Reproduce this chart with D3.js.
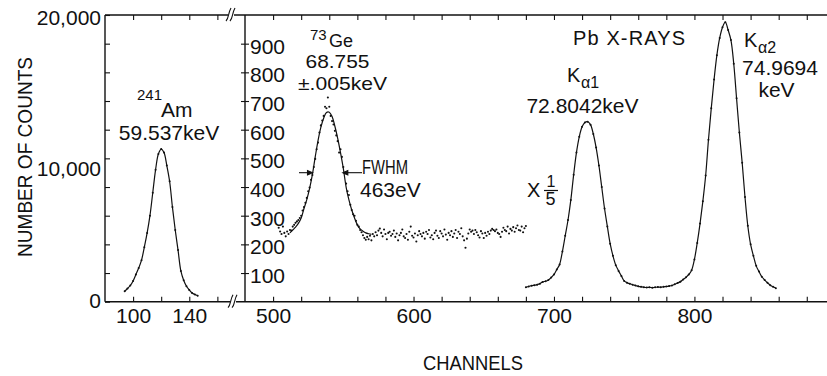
<!DOCTYPE html>
<html><head><meta charset="utf-8">
<script src="https://cdn.jsdelivr.net/npm/d3@7/dist/d3.min.js"></script>
<style>
html,body{margin:0;padding:0;background:#fff;}
svg text{font-family:"Liberation Sans",Arial,sans-serif;fill:#111;}
</style></head><body>
<svg id="chart" width="827" height="376"></svg>
<script>
// ---------- DATA ----------
// 241Am peak (left panel), counts
const amChannels = [94,96,98,100,102,104,106,108,110,112,114,116,118,120,122,124,126,128,130,132,134,136,138,140,142,144,146];
const amCounts   = [730,920,1130,1450,1900,2350,2900,3800,4800,6000,7600,9200,10300,10650,10400,9500,8400,6600,5000,3600,2150,1500,1080,820,610,500,420];

// 73Ge region (right panel, inner scale 0-1000), measured points
const geChannels = [504,505,506,507,508,509,510,511,512,513,514,515,516,517,518,519,520,521,522,523,524,525,526,527,528,529,530,531,532,533,534,535,536,537,538,539,540,541,542,543,544,545,546,547,548,549,550,551,552,553,554,555,556,557,558,559,560,561,562,563,564,565,566,567,568,
569,570,571,572,573,574,575,576,577,578,579,580,581,582,583,584,585,586,587,588,589,590,591,592,593,594,595,596,597,598,599,600,601,602,603,604,605,606,607,608,609,610,611,612,613,614,615,616,617,618,619,620,621,622,623,624,625,626,627,628,629,630,631,632,633,634,635,636,637,638,639,640,641,642,643,644,645,646,647,648,649,650,651,652,653,654,655,656,657,658,659,660,661,662,663,664,665,666,667,668,669,670,671,672,673,674,675,676,677,678,679,680];
const geCounts = [258,245,236,262,240,228,245,236,250,248,262,268,275,280,285,292,300,318,330,345,362,385,398,425,442,470,498,532,555,590,615,632,648,680,675,712,680,648,630,618,596,580,560,520,532,505,470,448,412,385,372,338,320,305,300,282,268,262,250,242,232,222,216,226,218,
230,214,236,228,242,232,248,255,240,228,252,236,218,240,244,230,236,248,226,238,214,232,240,252,228,222,236,216,244,262,230,224,238,210,232,246,236,228,240,220,244,236,250,224,232,218,240,248,230,222,246,238,228,252,234,216,240,232,246,226,238,250,222,244,236,256,228,214,188,220,238,252,244,248,236,250,242,232,224,246,238,222,240,230,244,236,248,254,250,246,252,240,236,226,244,258,250,246,262,238,254,248,260,244,256,266,250,248,262,242,256,264];

// 73Ge fitted curve
const geFitChannels = [512,514,516,518,520,522,524,526,528,530,532,534,536,538,540,542,544,546,548,550,552,554,556,558,560,562,564,566,568,570];
const geFitCounts   = [240,250,260,273,292,325,356,395,444,505,562,608,640,660,661,646,612,570,520,465,400,355,320,292,268,254,246,240,237,235];

// Pb X-ray region (right panel, main scale, x 1/5)
const pbChannels = [680,682,684,686,688,690,692,694,696,698,700,702,704,706,708,710,712,714,716,718,720,722,724,726,728,730,732,734,736,738,740,742,744,746,748,750,752,754,756,758,760,762,764,766,768,770,772,774,776,778,780,782,784,786,788,790,792,794,796,798,800,802,804,806,808,810,812,814,816,818,820,822,824,826,828,830,832,834,836,838,840,842,844,846,848,850,852,854,856,858];
const pbCounts = [1000,1060,1110,1150,1190,1260,1380,1430,1520,1680,1900,2250,2600,3500,4600,5700,7100,8850,10400,11500,12200,12500,12550,12350,11700,10750,9500,8000,6500,5250,4050,3200,2550,2150,1800,1450,1330,1250,1180,1130,1070,1040,1010,990,1000,980,1000,1020,1010,1040,1060,1090,1130,1220,1300,1400,1550,1700,1900,2200,2950,4100,5450,7000,8800,11300,13500,15500,17200,18400,19150,19500,18950,18250,16600,14200,11800,9700,7300,5300,4000,3200,2500,2100,1740,1520,1320,1150,1040,940];

// Ticks and labels
const yTicks = [0,2000,4000,6000,8000,10000,12000,14000,16000,18000,20000];
const yTickLabels = [0,10000,20000];
const geTicks = [100,200,300,400,500,600,700,800,900];
const leftXTicks = [100,120,140,160];
const leftXLabels = [100,140];
const rightXTicks = [500,520,540,560,580,600,620,640,660,680,700,720,740,760,780,800,820,840,860,880];
const rightXLabels = [500,600,700,800];

// ---------- SCALES ----------
const svg = d3.select("#chart");
const Y0 = 301.7, Y1 = 15;
const yMain = d3.scaleLinear().domain([0,20000]).range([Y0,Y1]);
const yGe = d3.scaleLinear().domain([0,1000]).range([Y0,Y1]);
const xL = d3.scaleLinear().domain([80,169.7]).range([105,231]);
const xR = d3.scaleLinear().domain([480,894.4]).range([245,827]);

const zip = (a,b)=>a.map((v,i)=>[v,b[i]]);
const amData = zip(amChannels, amCounts);
const geData = zip(geChannels, geCounts);
const geFit = zip(geFitChannels, geFitCounts);
const pbData = zip(pbChannels, pbCounts);

const ink = "#111";

// ---------- FRAME ----------
const frame = svg.append("g").attr("stroke", ink).attr("stroke-width", 1.4).attr("fill","none");
frame.append("line").attr("x1",105).attr("x2",827).attr("y1",Y1).attr("y2",Y1);
frame.append("line").attr("x1",105).attr("x2",827).attr("y1",Y0).attr("y2",Y0);
frame.append("line").attr("x1",105).attr("x2",105).attr("y1",Y1).attr("y2",Y0);
frame.append("line").attr("x1",245).attr("x2",245).attr("y1",Y1).attr("y2",Y0);

// axis break marks
function brk(cx, cy){
  svg.append("rect").attr("x",cx-3).attr("y",cy-2).attr("width",6).attr("height",4).attr("fill","#fff");
  const g = svg.append("g").attr("stroke",ink).attr("stroke-width",1.1).attr("fill","none");
  g.append("path").attr("d",`M${cx-5},${cy+6} C${cx-2},${cy+3} ${cx-3},${cy-2} ${cx},${cy-7}`);
  g.append("path").attr("d",`M${cx-1},${cy+6} C${cx+2},${cy+3} ${cx+1},${cy-2} ${cx+4},${cy-7}`);
}
brk(231, Y1);
brk(233, Y0);

// ---------- AXES ----------
function styleAxis(g){
  g.select(".domain").remove();
  g.selectAll(".tick line").attr("stroke",ink).attr("stroke-width",1.1);
  g.selectAll(".tick text").attr("fill",ink).style("font-size","21px").attr("font-family",null);
}
// bottom
svg.append("g").attr("transform",`translate(0,${Y0})`)
  .call(d3.axisBottom(xL).tickValues(leftXTicks).tickSize(-5).tickPadding(6).tickFormat(d=>leftXLabels.includes(d)?d:""))
  .call(styleAxis);
svg.append("g").attr("transform",`translate(0,${Y0})`)
  .call(d3.axisBottom(xR).tickValues(rightXTicks).tickSize(-5).tickPadding(6).tickFormat(d=>rightXLabels.includes(d)?d:""))
  .call(styleAxis);
// top
svg.append("g").attr("transform",`translate(0,${Y1})`)
  .call(d3.axisTop(xL).tickValues(leftXTicks).tickSize(-5).tickFormat(""))
  .call(styleAxis);
svg.append("g").attr("transform",`translate(0,${Y1})`)
  .call(d3.axisTop(xR).tickValues(rightXTicks).tickSize(-5).tickFormat(""))
  .call(styleAxis);
// left main
const fmt = d3.format(",");
const dyMap = {0:"0.28em",10000:"0.82em",20000:"0.46em"};
svg.append("g").attr("transform","translate(105,0)")
  .call(d3.axisLeft(yMain).tickValues(yTicks).tickSize(-5).tickPadding(4).tickFormat(d=>yTickLabels.includes(d)?fmt(d):""))
  .call(styleAxis)
  .call(g=>g.selectAll(".tick text").attr("dy",d=>dyMap[d]||"0.32em"));
// inner Ge scale
svg.append("g").attr("transform","translate(245,0)")
  .call(d3.axisRight(yGe).tickValues(geTicks).tickSize(4).tickPadding(1))
  .call(styleAxis)
  .call(g=>g.selectAll(".tick").append("line").attr("x2",-4).attr("stroke",ink).attr("stroke-width",1.1))
  .call(g=>g.selectAll(".tick text").attr("dy","0.45em"));

// ---------- DATA MARKS ----------
const curve = d3.curveCatmullRom.alpha(0.5);
const lineAm = d3.line().x(d=>xL(d[0])).y(d=>yMain(d[1])).curve(curve);
const lineGe = d3.line().x(d=>xR(d[0])).y(d=>yGe(d[1])).curve(curve);
const linePb = d3.line().x(d=>xR(d[0])).y(d=>yMain(d[1])).curve(curve);

svg.append("path").datum(amData).attr("d",lineAm).attr("fill","none").attr("stroke",ink).attr("stroke-width",1.2);
svg.append("path").datum(geFit).attr("d",lineGe).attr("fill","none").attr("stroke",ink).attr("stroke-width",1.2);
svg.append("path").datum(pbData).attr("d",linePb).attr("fill","none").attr("stroke",ink).attr("stroke-width",1.2);

svg.append("g").selectAll("circle").data(amData).join("circle")
  .attr("cx",d=>xL(d[0])).attr("cy",d=>yMain(d[1])).attr("r",1).attr("fill",ink);
svg.append("g").selectAll("circle").data(geData).join("circle")
  .attr("cx",d=>xR(d[0])).attr("cy",d=>yGe(d[1])).attr("r",1.05).attr("fill",ink);
svg.append("g").selectAll("circle").data(pbData).join("circle")
  .attr("cx",d=>xR(d[0])).attr("cy",d=>yMain(d[1])).attr("r",1).attr("fill",ink);

// ---------- ANNOTATIONS ----------
function txt(s, x, y, size, anchor, extra){
  const t = svg.append("text").attr("x",x).attr("y",y).style("font-size",size+"px")
    .attr("text-anchor",anchor||"start").text(s);
  if(extra) extra(t);
  return t;
}
// axis titles
txt("NUMBER OF COUNTS", 0, 0, 20, "middle", t=>t.attr("transform","translate(32,157) rotate(-90)").attr("textLength",200).attr("lengthAdjust","spacingAndGlyphs"));
txt("CHANNELS", 473, 370, 21, "middle", t=>t.attr("textLength",100).attr("lengthAdjust","spacingAndGlyphs"));

// 241Am
txt("241", 137, 100, 15, "start");
txt("Am", 161, 116.5, 21, "start");
txt("59.537keV", 169, 140, 21, "middle");

// 73Ge
txt("73", 310, 40, 15, "start");
txt("Ge", 329, 47, 18, "start");
txt("68.755", 337.5, 68, 19, "middle", t=>t.attr("textLength",64).attr("lengthAdjust","spacingAndGlyphs"));
txt("±.005keV", 342.5, 89.5, 19, "middle", t=>t.attr("textLength",89).attr("lengthAdjust","spacingAndGlyphs"));

// FWHM markers
const yF = yGe(450);
const fw = svg.append("g").attr("stroke",ink).attr("stroke-width",1.1).attr("fill",ink);
fw.append("line").attr("x1",299).attr("x2",310).attr("y1",yF).attr("y2",yF);
fw.append("path").attr("d",`M312.5,${yF} l-5,-2.2 l0,4.4 z`);
fw.append("line").attr("x1",345).attr("x2",362).attr("y1",yF).attr("y2",yF);
fw.append("path").attr("d",`M342.8,${yF} l5,-2.2 l0,4.4 z`);
txt("FWHM", 362, 173.5, 20, "start", t=>t.attr("textLength",46).attr("lengthAdjust","spacingAndGlyphs"));
txt("463eV", 360, 197, 21, "start");

// Pb X-rays
txt("Pb X-RAYS", 573, 45, 20, "start", t=>t.attr("textLength",112).attr("lengthAdjust","spacing"));
txt("K", 567, 82, 20, "start");
txt("α1", 581, 87.5, 16, "start");
txt("72.8042keV", 582.5, 113, 21, "middle");
txt("X", 527, 197, 20, "start");
txt("1", 551, 186.5, 16, "middle");
svg.append("line").attr("x1",544).attr("x2",558).attr("y1",190.5).attr("y2",190.5).attr("stroke",ink).attr("stroke-width",1.2);
txt("5", 550.5, 205, 18, "middle");

txt("K", 744, 47, 20, "start");
txt("α2", 758, 53, 16, "start");
txt("74.9694", 780, 75, 21, "middle");
txt("keV", 776.5, 97, 21, "middle");
</script></body></html>
